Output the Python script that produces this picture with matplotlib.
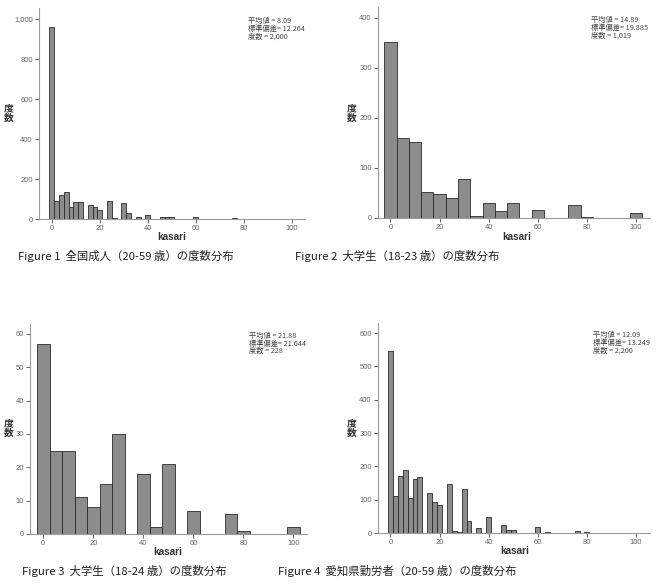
import matplotlib
matplotlib.use("Agg")
import matplotlib.pyplot as plt

# Figure 1: national adults, bin width 2
centers1 = [0, 2, 4, 6, 8, 10, 12, 16, 18, 20, 24, 26, 28, 30, 32, 36, 40, 46, 48, 50, 60, 76]
counts1 = [960, 92, 118, 135, 62, 83, 83, 72, 60, 45, 92, 4, 2, 80, 30, 12, 20, 12, 8, 8, 10, 6]

# Figure 2: university students 18-23, bin width 5
centers2 = [0, 5, 10, 15, 20, 25, 30, 35, 40, 45, 50, 60, 75, 80, 100]
counts2 = [352, 160, 153, 52, 48, 40, 78, 4, 31, 14, 31, 17, 26, 2, 11]

# Figure 3: university students 18-24, bin width 5
centers3 = [0, 5, 10, 15, 20, 25, 30, 40, 45, 50, 60, 75, 80, 100]
counts3 = [57, 25, 25, 11, 8, 15, 30, 18, 2, 21, 7, 6, 1, 2]

# Figure 4: Aichi workers, bin width 2
centers4 = [0, 2, 4, 6, 8, 10, 12, 16, 18, 20, 24, 26, 28, 30, 32, 36, 40, 46, 48, 50, 60, 64, 76, 80]
counts4 = [545, 110, 170, 190, 105, 162, 168, 120, 94, 85, 147, 7, 3, 133, 36, 14, 48, 25, 8, 10, 17, 2, 7, 2]

stats = [
    "平均値 = 8.09\n標準偏差= 12.264\n度数 = 2,000",
    "平均値 = 14.89\n標準偏差= 19.885\n度数 = 1,019",
    "平均値 = 21.88\n標準偏差= 21.644\n度数 = 228",
    "平均値 = 12.09\n標準偏差= 13.249\n度数 = 2,200",
]
captions = [
    "Figure 1  全国成人（20-59 歳）の度数分布",
    "Figure 2  大学生（18-23 歳）の度数分布",
    "Figure 3  大学生（18-24 歳）の度数分布",
    "Figure 4  愛知県勤労者（20-59 歳）の度数分布",
]
yticks = [range(0, 1001, 200), range(0, 401, 100), range(0, 61, 10), range(0, 601, 100)]

W, H = 660, 586
fig = plt.figure(figsize=(W / 100, H / 100), dpi=100)
plt.rcParams['font.family'] = ['Liberation Sans', 'Noto Sans CJK JP']
jp = ['Noto Sans CJK JP', 'DejaVu Sans']


def px_axes(l, r, b, t):
    return fig.add_axes([l / W, 1 - b / H, (r - l) / W, (b - t) / H])


def fx(x):
    return x / W


def fy(y):
    return 1 - y / H


# pixel layout: left, right, bottom (y=0), top, xlim, ylim top
layout = [
    (39, 305, 219, 8, (-5.3, 105.5), 1055),
    (378, 650, 218, 7, (-5.05, 105.7), 422),
    (30, 307, 534, 324, (-5.3, 105.4), 63),
    (378, 650, 533, 323, (-5.05, 105.7), 630),
]
data = [(centers1, counts1, 2), (centers2, counts2, 5), (centers3, counts3, 5), (centers4, counts4, 2)]
stat_pos = [(248, 17), (591, 16), (249, 332), (593, 331)]
ylab_pos = [(9, 113), (352, 113), (9, 428), (352, 428)]
xlab_pos = [(172, 237), (517, 237), (168, 552), (515, 551)]
cap_pos = [(18, 256), (295, 256), (22, 571), (278, 571)]

for i in range(4):
    l, r, b, t, xl, ytop = layout[i]
    ax = px_axes(l, r, b, t)
    c, n, bw = data[i]
    ax.bar(c, n, width=bw, align='center', color='#8c8c8c', edgecolor='#2a2a2a', linewidth=0.6)
    ax.set_xlim(*xl)
    ax.set_ylim(0, ytop)
    ax.set_xticks(range(0, 101, 20))
    ax.set_yticks(list(yticks[i]))
    ax.set_yticklabels([f"{v:,}" for v in yticks[i]])
    for s in ['top', 'right']:
        ax.spines[s].set_visible(False)
    for s in ['left', 'bottom']:
        ax.spines[s].set_color('#9a9a9a')
        ax.spines[s].set_linewidth(0.8)
    ax.tick_params(axis='both', labelsize=5.5, colors='#666666', length=3, width=0.7, pad=1.5)
    fig.text(fx(stat_pos[i][0]), fy(stat_pos[i][1]), stats[i], family=jp, fontsize=5.2,
             color='#444444', va='top', ha='left', linespacing=0.95)
    fig.text(fx(ylab_pos[i][0]), fy(ylab_pos[i][1]), "度\n数", family=jp, fontsize=7,
             fontweight='bold', color='#333333', ha='center', va='center', linespacing=1.0)
    fig.text(fx(xlab_pos[i][0]), fy(xlab_pos[i][1]), "kasari", fontsize=7.2,
             fontweight='bold', color='#333333', ha='center', va='center')
    fig.text(fx(cap_pos[i][0]), fy(cap_pos[i][1]), captions[i], family=jp, fontsize=8.2,
             color='#222222', ha='left', va='center')

fig.savefig("out.png", dpi=100)
